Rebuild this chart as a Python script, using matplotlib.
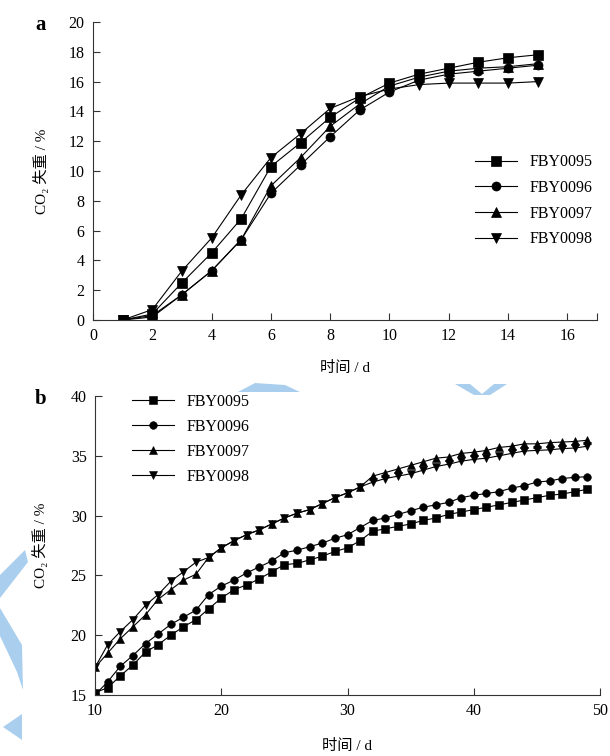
import matplotlib
matplotlib.use('Agg')
import matplotlib.pyplot as plt
from matplotlib.patches import Polygon

plt.rcParams['font.family'] = ['Liberation Serif', 'Noto Sans CJK SC']
plt.rcParams['font.size'] = 11

names = ['FBY0095', 'FBY0096', 'FBY0097', 'FBY0098']
markers = ['s', 'o', '^', 'v']

# panel a: days 1-15
days_a = list(range(1, 16))
a_0095 = [0, 0.4, 2.5, 4.5, 6.8, 10.3, 11.9, 13.6, 14.9, 15.9, 16.5, 16.9, 17.3, 17.6, 17.8]
a_0096 = [0, 0.2, 1.7, 3.3, 5.4, 8.5, 10.4, 12.3, 14.1, 15.3, 16.1, 16.5, 16.7, 16.9, 17.1]
a_0097 = [0, 0.3, 1.7, 3.3, 5.4, 9.0, 10.9, 13.0, 14.5, 15.7, 16.3, 16.7, 16.9, 17.0, 17.2]
a_0098 = [0, 0.7, 3.3, 5.5, 8.4, 10.9, 12.5, 14.2, 15.0, 15.5, 15.8, 15.9, 15.9, 15.9, 16.0]

# panel b: days 10-49
days_b = list(range(10, 50))
b_0095 = [15.2, 15.6, 16.6, 17.5, 18.6, 19.2, 20.0, 20.7, 21.3, 22.2,
          23.1, 23.8, 24.2, 24.7, 25.3, 25.9, 26.0, 26.3, 26.6, 27.0,
          27.3, 27.9, 28.7, 28.9, 29.1, 29.3, 29.6, 29.8, 30.1, 30.3,
          30.5, 30.7, 30.9, 31.1, 31.3, 31.5, 31.7, 31.8, 32.0, 32.2]
b_0096 = [15.0, 16.1, 17.4, 18.3, 19.3, 20.1, 20.9, 21.5, 22.1, 23.4,
          24.1, 24.6, 25.2, 25.7, 26.2, 26.9, 27.1, 27.4, 27.7, 28.1,
          28.4, 29.0, 29.6, 29.8, 30.1, 30.4, 30.7, 30.9, 31.1, 31.5,
          31.7, 31.85, 32.0, 32.3, 32.5, 32.8, 32.9, 33.1, 33.2, 33.25]
b_0097 = [17.3, 18.5, 19.7, 20.7, 21.7, 23.0, 23.8, 24.6, 25.1, 26.5,
          27.3, 27.9, 28.4, 28.8, 29.3, 29.8, 30.2, 30.5, 31.0, 31.5,
          31.9, 32.4, 33.3, 33.6, 33.9, 34.2, 34.5, 34.8, 34.9, 35.2,
          35.3, 35.45, 35.7, 35.8, 36.0, 36.0, 36.1, 36.15, 36.2, 36.3]
b_0098 = [17.3, 19.2, 20.3, 21.3, 22.5, 23.4, 24.5, 25.3, 26.1, 26.5,
          27.3, 27.9, 28.4, 28.8, 29.3, 29.8, 30.2, 30.5, 31.0, 31.5,
          31.9, 32.4, 32.8, 33.1, 33.3, 33.5, 33.8, 34.1, 34.3, 34.55,
          34.7, 34.8, 35.0, 35.2, 35.4, 35.45, 35.5, 35.6, 35.65, 35.8]

series_a = [a_0095, a_0096, a_0097, a_0098]
series_b = [b_0095, b_0096, b_0097, b_0098]

W, H = 610, 756
fig = plt.figure(figsize=(W / 100, H / 100), dpi=100)

# light blue watermark pieces (pixel outlines, converted to figure fractions)
wm = '#aacfee'
shapes = [
    [(0, 575), (25, 550), (28, 562), (0, 598)],
    [(0, 608), (22, 645), (23, 690), (17, 672), (0, 636)],
    [(3, 727), (22, 714), (22, 740)],
    [(238, 392), (255, 383), (285, 385), (300, 392)],
    [(455, 384), (470, 384), (482, 394), (494, 384), (507, 384), (490, 395), (474, 395)],
]
for pts in shapes:
    fpts = [(x / W, 1 - y / H) for x, y in pts]
    fig.patches.append(Polygon(fpts, closed=True, transform=fig.transFigure,
                               facecolor=wm, edgecolor='none', zorder=0))

ax_a = fig.add_axes([93 / W, 1 - 320 / H, 504 / W, 298 / H])
ax_b = fig.add_axes([95 / W, 1 - 695 / H, 505 / W, 299 / H])

for name, m, ys in zip(names, markers, series_a):
    ax_a.plot(days_a, ys, color='black', lw=0.8, marker=m, ms=6.5,
              markeredgecolor='black', markeredgewidth=0.5, label=name)
for name, m, ys in zip(names, markers, series_b):
    ax_b.plot(days_b, ys, color='black', lw=0.8, marker=m, ms=5.5,
              markeredgecolor='black', markeredgewidth=0.4, label=name)

ax_a.set_xlim(0, 17)
ax_a.set_ylim(0, 20)
ax_a.set_xticks(range(0, 17, 2))
ax_a.set_xticks([17], minor=True)
ax_a.set_yticks(range(0, 21, 2))
ax_a.set_xlabel('时间 / d', labelpad=12)
ax_a.set_ylabel('CO₂ 失重 / %', labelpad=14)

ax_b.set_xlim(10, 50)
ax_b.set_ylim(15, 40)
ax_b.set_xticks(range(10, 51, 10))
ax_b.set_yticks(range(15, 41, 5))
ax_b.set_xlabel('时间 / d', labelpad=14)
ax_b.set_ylabel('CO₂ 失重 / %', labelpad=16)

for ax in (ax_a, ax_b):
    ax.spines['top'].set_visible(False)
    ax.spines['right'].set_visible(False)
    ax.spines['left'].set_color('#333333')
    ax.spines['bottom'].set_color('#333333')
    ax.tick_params(direction='in', length=5, width=0.8, color='#333333',
                   labelsize=11.5, pad=6)
    ax.tick_params(which='minor', direction='in', length=5, width=0.8, color='#333333')
    ax.patch.set_alpha(0)

ax_a.legend(loc='center right', bbox_to_anchor=(1.02, 0.40), frameon=False,
            handlelength=2.6, labelspacing=0.6, fontsize=11.5, numpoints=1)
ax_b.legend(loc='upper left', bbox_to_anchor=(0.045, 1.055), frameon=False,
            handlelength=2.6, labelspacing=0.56, fontsize=11.5, numpoints=1)

fig.text(35 / W, 1 - 30 / H, 'a', fontsize=15, fontweight='bold')
fig.text(35 / W, 1 - 404 / H, 'b', fontsize=15, fontweight='bold')

fig.savefig('out.png', dpi=100)
